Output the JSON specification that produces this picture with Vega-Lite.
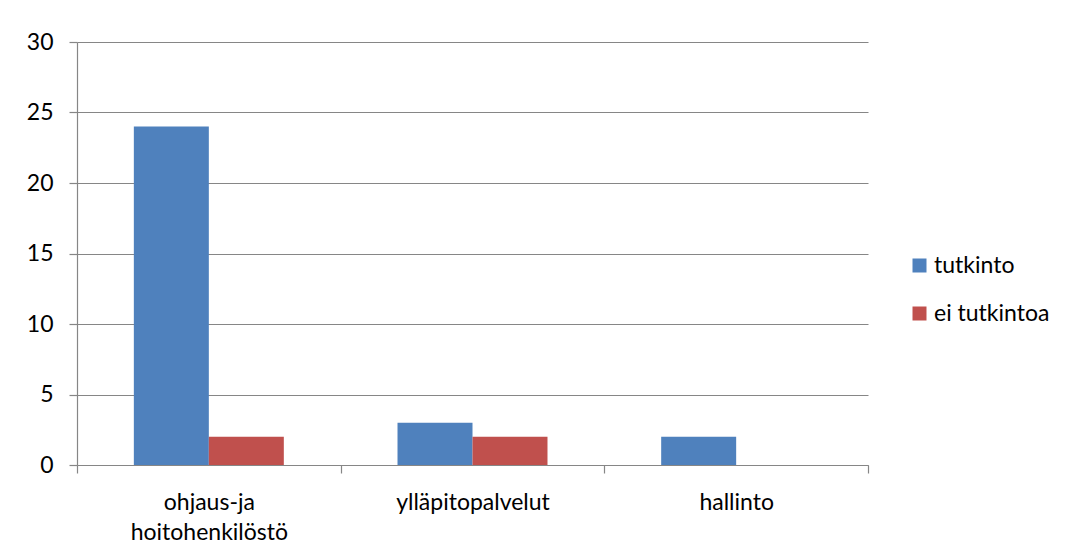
{
  "$schema": "https://vega.github.io/schema/vega-lite/v6.json",
  "width": 791,
  "height": 423,
  "autosize": {"type": "none"},
  "padding": {"left": 77, "top": 42, "right": 203, "bottom": 91},
  "background": "white",
  "config": {
    "font": "Lato",
    "view": {"stroke": null},
    "axis": {"labelFont": "Lato", "labelFontSize": 23, "labelColor": "#000000", "domainColor": "#868686", "tickColor": "#868686", "gridColor": "#868686", "domainWidth": 1.2, "tickWidth": 1.2, "gridWidth": 1}
  },
  "data": {
    "values": [
      {"kategoria": "ohjaus-ja hoitohenkilöstö", "sarja": "tutkinto", "arvo": 24},
      {"kategoria": "ohjaus-ja hoitohenkilöstö", "sarja": "ei tutkintoa", "arvo": 2},
      {"kategoria": "ylläpitopalvelut", "sarja": "tutkinto", "arvo": 3},
      {"kategoria": "ylläpitopalvelut", "sarja": "ei tutkintoa", "arvo": 2},
      {"kategoria": "hallinto", "sarja": "tutkinto", "arvo": 2}
    ]
  },
  "mark": {"type": "bar"},
  "encoding": {
    "x": {
      "field": "kategoria",
      "type": "nominal",
      "sort": ["ohjaus-ja hoitohenkilöstö", "ylläpitopalvelut", "hallinto"],
      "scale": {"paddingInner": 0, "paddingOuter": 0},
      "axis": {
        "title": null,
        "labelAngle": 0,
        "tickBand": "extent",
        "tickSize": 8,
        "labelPadding": 18,
        "labelLineHeight": 30,
        "labelBaseline": "top",
        "labelExpr": "datum.value == 'ohjaus-ja hoitohenkilöstö' ? ['ohjaus-ja', 'hoitohenkilöstö'] : datum.value"
      }
    },
    "xOffset": {
      "field": "sarja",
      "type": "nominal",
      "sort": ["tutkinto", "ei tutkintoa"],
      "scale": {"domain": ["tutkinto", "ei tutkintoa"], "paddingInner": 0, "paddingOuter": 0.758}
    },
    "y": {
      "field": "arvo",
      "type": "quantitative",
      "scale": {"domain": [0, 30], "nice": false},
      "axis": {
        "title": null,
        "values": [0, 5, 10, 15, 20, 25, 30],
        "grid": true,
        "tickSize": 8,
        "labelPadding": 16
      }
    },
    "color": {
      "field": "sarja",
      "type": "nominal",
      "sort": ["tutkinto", "ei tutkintoa"],
      "scale": {"domain": ["tutkinto", "ei tutkintoa"], "range": ["#4F81BD", "#C0504D"]},
      "legend": {
        "title": null,
        "orient": "none",
        "legendX": 831,
        "legendY": 212,
        "symbolType": "square",
        "symbolSize": 196,
        "symbolStrokeWidth": 0,
        "labelFont": "Lato",
        "labelFontSize": 23,
        "labelColor": "#000000",
        "labelOffset": 3,
        "rowPadding": 24
      }
    }
  }
}
